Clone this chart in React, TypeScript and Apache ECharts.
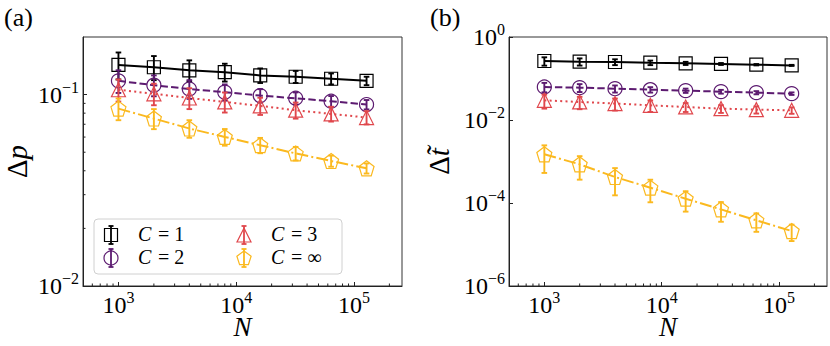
import React, { useEffect, useRef } from "react";
import * as echarts from "echarts";

const N = [1000, 2000, 4000, 8000, 16000, 32000, 64000, 128000];
const legendLabels = ["1", "2", "3", "∞"];

// panel (a): Δp
const dpC1 = [0.143, 0.139, 0.134, 0.131, 0.126, 0.124, 0.121, 0.118];
const dpC2 = [0.118, 0.112, 0.107, 0.103, 0.0988, 0.0957, 0.0923, 0.0887];
const dpC3 = [0.106, 0.101, 0.096, 0.0916, 0.0873, 0.0829, 0.0793, 0.0759];
const dpCinf = [0.0845, 0.075, 0.0665, 0.0601, 0.0544, 0.0493, 0.045, 0.0412];
const dpErrC1 = [0.023, 0.02, 0.017, 0.014, 0.011, 0.009, 0.008, 0.006];
const dpErrC2 = [0.016, 0.014, 0.012, 0.01, 0.008, 0.007, 0.006, 0.005];
const dpErrC3 = [0.014, 0.013, 0.012, 0.011, 0.009, 0.008, 0.007, 0.006];
const dpErrCinf = [0.011, 0.009, 0.007, 0.006, 0.005, 0.004, 0.003, 0.0025];

// panel (b): Δt~
const dtC1 = [0.264, 0.255, 0.25, 0.24, 0.232, 0.224, 0.215, 0.207];
const dtC2 = [0.0624, 0.0602, 0.0569, 0.0538, 0.051, 0.0482, 0.0456, 0.0432];
const dtC3 = [0.0298, 0.0272, 0.0249, 0.0226, 0.0206, 0.0188, 0.0178, 0.0171];
const dtCinf = [0.00149, 0.000855, 0.000423, 0.000234, 0.000127, 0.0000703, 0.0000382, 0.0000211];
const dtErrC1 = [0.06, 0.05, 0.04, 0.03, 0.02, 0.012, 0.008, 0.006];
const dtErrC2 = [0.016, 0.013, 0.011, 0.008, 0.006, 0.005, 0.004, 0.003];
const dtErrC3 = [0.011, 0.009, 0.008, 0.007, 0.005, 0.004, 0.0035, 0.003];
const dtErrCinf = [0.00096, 0.00049, 0.00027, 0.00013, 0.000065, 0.000035, 0.000018, 0.000009];

const xMinorTicks = [600, 700, 800, 900, 2000, 3000, 4000, 5000, 6000, 7000, 8000, 9000,
  20000, 30000, 40000, 50000, 60000, 70000, 80000, 90000, 200000];
const yMinorTicksA = [0.02, 0.03, 0.04, 0.05, 0.06, 0.07, 0.08, 0.09];

const COLORS = ["#000000", "#5c1a70", "#e0474c", "#fbb91f"];
const PENTAGON = "path://M50,0 L97.6,34.5 L79.4,90.5 L20.6,90.5 L2.4,34.5 Z";
const SYMBOLS = ["rect", "circle", "triangle", PENTAGON];
const SYM_SIZE = [13, 14, 14, 15];
const DASHES: any[] = ["solid", [7.4, 3.2], [2, 3.3], [12, 3.2, 2, 3.2]];

const FONT = "Liberation Serif";

const supMap: Record<string, string> = { "-": "−" };
function logLabel(v: number) {
  const e = Math.log10(v);
  const r = Math.round(e);
  if (Math.abs(e - r) > 1e-6) return "";
  const s = String(r).split("").map((c) => supMap[c] || c).join("");
  return `{b|10}{e|${s}}`;
}

const labelRich = {
  b: { fontFamily: FONT, fontSize: 24, color: "#000" },
  e: { fontFamily: FONT, fontSize: 16, color: "#000", padding: [0, 0, 15, 0] },
};

export default function App() {
  const ref = useRef<HTMLDivElement>(null);
  useEffect(() => {
    if (!ref.current) return;
    const chart = echarts.init(ref.current, null, { renderer: "svg" });

    const panels = [
      { vals: [dpC1, dpC2, dpC3, dpCinf], errs: [dpErrC1, dpErrC2, dpErrC3, dpErrCinf], yMin: 0.01, yMax: 0.2, yMinor: yMinorTicksA },
      { vals: [dtC1, dtC2, dtC3, dtCinf], errs: [dtErrC1, dtErrC2, dtErrC3, dtErrCinf], yMin: 1e-6, yMax: 1, yMinor: [] as number[] },
    ];

    const series: any[] = [];
    panels.forEach((p, pi) => {
      p.vals.forEach((vals, ci) => {
        series.push({
          type: "line",
          name: "C = " + legendLabels[ci],
          xAxisIndex: pi,
          yAxisIndex: pi,
          data: N.map((n, i) => [n, vals[i]]),
          symbol: SYMBOLS[ci],
          symbolSize: SYM_SIZE[ci],
          itemStyle: { color: "rgba(0,0,0,0)", borderColor: COLORS[ci], borderWidth: 1.2 },
          lineStyle: { color: COLORS[ci], width: 2, type: DASHES[ci], cap: "butt" },
          z: 2 + ci * 2,
          silent: true,
        });
        const errs = p.errs[ci];
        series.push({
          type: "custom",
          xAxisIndex: pi,
          yAxisIndex: pi,
          data: N.map((n, i) => [n, vals[i], errs[i]]),
          encode: { x: 0, y: 1 },
          z: 3 + ci * 2,
          silent: true,
          renderItem: (params: any, api: any) => {
            const x = api.value(0);
            const y = api.value(1);
            const e = api.value(2);
            const top = api.coord([x, y + e]);
            const bot = api.coord([x, Math.max(y - e, 1e-9)]);
            const c = 2.8;
            const st = { stroke: COLORS[ci], lineWidth: 1.9 };
            return {
              type: "group",
              children: [
                { type: "line", shape: { x1: top[0], y1: top[1], x2: bot[0], y2: bot[1] }, style: st },
                { type: "line", shape: { x1: top[0] - c, y1: top[1], x2: top[0] + c, y2: top[1] }, style: st },
                { type: "line", shape: { x1: bot[0] - c, y1: bot[1], x2: bot[0] + c, y2: bot[1] }, style: st },
              ],
            };
          },
        });
      });
      series.push({
        type: "custom",
        xAxisIndex: pi,
        yAxisIndex: pi,
        data: xMinorTicks.map((v) => [v, p.yMin]),
        encode: { x: 0, y: 1 },
        clip: false,
        silent: true,
        z: 20,
        renderItem: (params: any, api: any) => {
          const pt = api.coord([api.value(0), api.value(1)]);
          return { type: "line", shape: { x1: pt[0], y1: pt[1], x2: pt[0], y2: pt[1] - 2.5 }, style: { stroke: "#222", lineWidth: 1 } };
        },
      });
      if (p.yMinor.length) {
        series.push({
          type: "custom",
          xAxisIndex: pi,
          yAxisIndex: pi,
          data: p.yMinor.map((v) => [500, v]),
          encode: { x: 0, y: 1 },
          clip: false,
          silent: true,
          z: 20,
          renderItem: (params: any, api: any) => {
            const pt = api.coord([api.value(0), api.value(1)]);
            return { type: "line", shape: { x1: pt[0], y1: pt[1], x2: pt[0] + 2.5, y2: pt[1] }, style: { stroke: "#222", lineWidth: 1 } };
          },
        });
      }
    });

    const xAxisBase = (gi: number) => ({
      type: "log",
      gridIndex: gi,
      logBase: 10,
      min: 500,
      max: 256000,
      name: "N",
      nameLocation: "middle",
      nameGap: 27,
      nameMoveOverlap: false,
      nameTextStyle: { fontFamily: FONT, fontSize: 27, fontStyle: "italic", color: "#000" },
      axisLine: { show: true, lineStyle: { color: "#222", width: 1 } },
      axisTick: { show: true, inside: true, length: 4, lineStyle: { color: "#222" } },
      axisLabel: {
        fontFamily: FONT,
        formatter: (v: number) => logLabel(v),
        rich: labelRich,
        margin: 3,
        showMinLabel: false,
        showMaxLabel: false,
      },
      splitLine: { show: false },
    });

    const nameRich = {
      u: { fontFamily: FONT, fontSize: 29, color: "#000" },
      i: { fontFamily: FONT, fontSize: 29, fontStyle: "italic", color: "#000" },
    };

    const legendX = 94, legendY = 219;
    const legendItems = [
      { ci: 0, x: 111, y: 235, ty: 234 },
      { ci: 1, x: 111, y: 258, ty: 257 },
      { ci: 2, x: 244, y: 235, ty: 234 },
      { ci: 3, x: 244, y: 258, ty: 257 },
    ];
    const markerShape = (ci: number, x: number, y: number) => {
      const st = { stroke: COLORS[ci], fill: "none", lineWidth: 1.2 };
      if (ci === 0) return { type: "rect", shape: { x: x - 6.5, y: y - 6.5, width: 13, height: 13 }, style: st };
      if (ci === 1) return { type: "circle", shape: { cx: x, cy: y, r: 7 }, style: st };
      if (ci === 2) return { type: "polygon", shape: { points: [[x, y - 7], [x + 7, y + 7], [x - 7, y + 7]] }, style: st };
      const pts = [0, 1, 2, 3, 4].map((k) => {
        const a = -Math.PI / 2 + (k * 2 * Math.PI) / 5;
        return [x + 7.5 * Math.cos(a), y + 7.5 * Math.sin(a) + 0.5];
      });
      return { type: "polygon", shape: { points: pts }, style: st };
    };
    const legendGraphics: any[] = [
      {
        type: "rect",
        shape: { x: legendX, y: legendY, width: 248, height: 55, r: 4 },
        style: { fill: "rgba(255,255,255,0.85)", stroke: "#d0d0d0", lineWidth: 1 },
        z: 100,
      },
    ];
    legendItems.forEach((it) => {
      const st = { stroke: COLORS[it.ci], lineWidth: 1.8 };
      legendGraphics.push(
        { ...markerShape(it.ci, it.x, it.y), z: 101 },
        { type: "line", shape: { x1: it.x, y1: it.y - 9, x2: it.x, y2: it.y + 9 }, style: st, z: 102 },
        { type: "line", shape: { x1: it.x - 2.5, y1: it.y - 9, x2: it.x + 2.5, y2: it.y - 9 }, style: st, z: 102 },
        { type: "line", shape: { x1: it.x - 2.5, y1: it.y + 9, x2: it.x + 2.5, y2: it.y + 9 }, style: st, z: 102 },
        {
          type: "text",
          x: it.x + 27,
          y: it.ty,
          z: 102,
          style: { text: "C", font: `italic 20px ${FONT}`, fill: "#000", verticalAlign: "middle" },
        },
        {
          type: "text",
          x: it.x + 47,
          y: it.ty,
          z: 102,
          style: { text: "= " + legendLabels[it.ci], font: `20px ${FONT}`, fill: "#000", verticalAlign: "middle" },
        }
      );
    });

    chart.setOption({
      animation: false,
      backgroundColor: "#fff",
      textStyle: { fontFamily: FONT },
      grid: [
        { left: 83, top: 37, width: 319, height: 249, show: true, borderColor: "#333", borderWidth: 1, outerBoundsMode: "none", containLabel: false },
        { left: 509, top: 37, width: 318, height: 249, show: true, borderColor: "#333", borderWidth: 1, outerBoundsMode: "none", containLabel: false },
      ],
      xAxis: [xAxisBase(0), xAxisBase(1)],
      yAxis: [
        {
          type: "log",
          gridIndex: 0,
          logBase: 10,
          min: 0.01,
          max: 0.2,
          name: "{u|Δ}{i|p}",
          nameLocation: "middle",
          nameGap: 52,
          nameTextStyle: { fontFamily: FONT, rich: nameRich },
          axisLine: { show: true, lineStyle: { color: "#222", width: 1 } },
          axisTick: { show: true, inside: true, length: 4, lineStyle: { color: "#222" } },
          axisLabel: { fontFamily: FONT, formatter: (v: number) => logLabel(v), rich: labelRich, margin: 4, showMaxLabel: false },
          splitLine: { show: false },
        },
        {
          type: "log",
          gridIndex: 1,
          logBase: 10,
          min: 1e-6,
          max: 1,
          interval: 2,
          name: "{u|Δ}{i|t̃}",
          nameLocation: "middle",
          nameGap: 56,
          nameTextStyle: { fontFamily: FONT, rich: nameRich },
          axisLine: { show: true, lineStyle: { color: "#222", width: 1 } },
          axisTick: { show: true, inside: true, length: 4, lineStyle: { color: "#222" } },
          axisLabel: { fontFamily: FONT, formatter: (v: number) => logLabel(v), rich: labelRich, margin: 4 },
          splitLine: { show: false },
        },
      ],
      graphic: [
        { type: "text", left: 4, top: 4, style: { text: "(a)", font: `26px ${FONT}`, fill: "#000" } },
        { type: "text", left: 430, top: 4, style: { text: "(b)", font: `26px ${FONT}`, fill: "#000" } },
        ...legendGraphics,
      ],
      series,
    });
    return () => chart.dispose();
  }, []);
  return <div ref={ref} style={{ position: "absolute", left: 0, top: 0, width: 830, height: 346 }} />;
}
